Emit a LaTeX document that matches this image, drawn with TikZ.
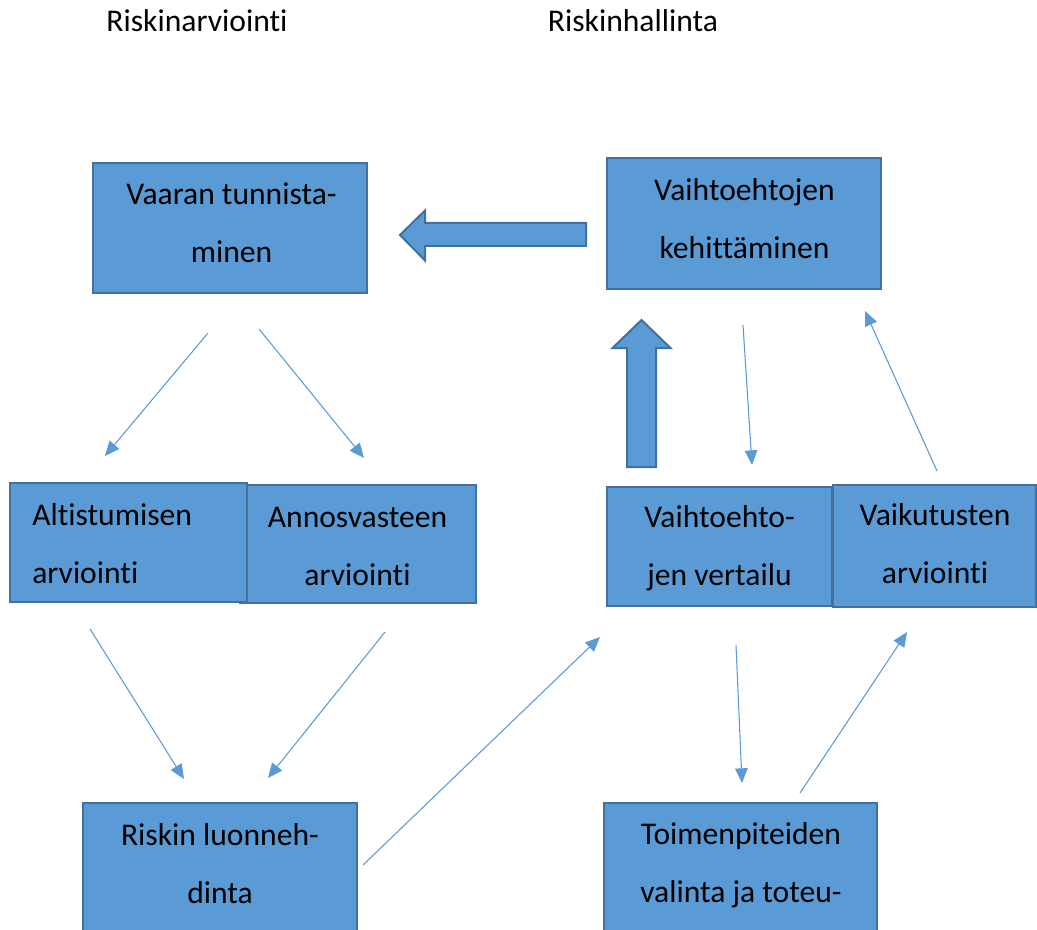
\documentclass[tikz,border=0pt]{standalone}
\usepackage{fontspec}
\setmainfont{Carlito}[Ligatures={NoCommon}]
\usetikzlibrary{arrows.meta,fit}
\definecolor{boxfill}{HTML}{5B9BD5}
\definecolor{boxline}{HTML}{41719C}
\begin{document}
\begin{tikzpicture}[x=0.75pt,y=-0.75pt,
  box/.style={draw=boxline,fill=boxfill,line width=1.5pt,inner sep=0pt,rectangle},
  txt/.style={font=\fontsize{23.7pt}{43.5pt}\selectfont,inner sep=0pt,align=center,text=black},
  thin/.style={draw=boxfill,line width=0.8pt,-{Triangle[length=11pt,width=9.5pt]}},
  blockarrow/.style={draw=boxline,fill=boxfill,line width=1.5pt,line join=miter}]
\useasboundingbox (0,0) rectangle (1037,930);
\clip (0,0) rectangle (1037,930);
% headers
\node[txt,anchor=base] (hA) at (197,32) {Riskinarviointi};
\node[txt,anchor=base] (hB) at (633,32) {Riskinhallinta};
% boxes
\node[box,fit={(93,163) (367,293)}] (vaara) {};
\node[txt,anchor=north] (vaaraT) at (231.5,163.4) {\strut Vaaran tunnista-\\\strut minen};
\node[box,fit={(607,158) (881,289)}] (kehit) {};
\node[txt,anchor=north] (kehitT) at (744.5,160.1) {\strut Vaihtoehtojen\\\strut kehittäminen};
\node[box,fit={(240,485) (476,603)}] (annos) {};
\node[txt,anchor=north] (annosT) at (357.5,486.4) {\strut Annosvasteen\\\strut arviointi};
\node[box,fit={(10,483) (247,602)}] (altis) {};
\node[txt,anchor=north west,align=left] (altisT) at (32,484.4) {\strut Altistumisen\\\strut arviointi};
\node[box,fit={(607,487) (832,606)}] (vert) {};
\node[txt,anchor=north] (vertT) at (719.5,486.4) {\strut Vaihtoehto-\\\strut jen vertailu};
\node[box,fit={(833,485) (1036,607)}] (vaik) {};
\node[txt,anchor=north] (vaikT) at (935,484.4) {\strut Vaikutusten\\\strut arviointi};
\node[box,fit={(83,803) (357,960)}] (luon) {};
\node[txt,anchor=north] (luonT) at (220,804.4) {\strut Riskin luonneh-\\\strut dinta};
\node[box,fit={(604,803) (877,960)}] (toim) {};
\node[txt,anchor=north] (toimT) at (741,803.4) {\strut Toimenpiteiden\\\strut valinta ja toteu-};
% block arrows
\draw[blockarrow] (400,235) -- (425,210.5) -- (425,223) -- (586,223) -- (586,246) -- (425,246) -- (425,260.5) -- cycle;
\draw[blockarrow] (641.5,320) -- (670.5,348) -- (656,348) -- (656,467) -- (627,467) -- (627,348) -- (612.5,348) -- cycle;
% thin arrows
\coordinate (a1s) at (208,333); \coordinate (a1e) at (105,456);
\coordinate (a2s) at (259,329); \coordinate (a2e) at (364,458);
\coordinate (a3s) at (90,629);  \coordinate (a3e) at (184,779);
\coordinate (a4s) at (385,632); \coordinate (a4e) at (268,778);
\coordinate (a5s) at (363,865); \coordinate (a5e) at (600,637);
\coordinate (a6s) at (743,325); \coordinate (a6e) at (752,465);
\coordinate (a7s) at (937,471); \coordinate (a7e) at (865,311);
\coordinate (a8s) at (736,645); \coordinate (a8e) at (742,783);
\coordinate (a9s) at (800,793); \coordinate (a9e) at (907,632);
\foreach \i in {1,...,9} {\draw[thin] (a\i s) -- (a\i e);}
\end{tikzpicture}
\end{document}
